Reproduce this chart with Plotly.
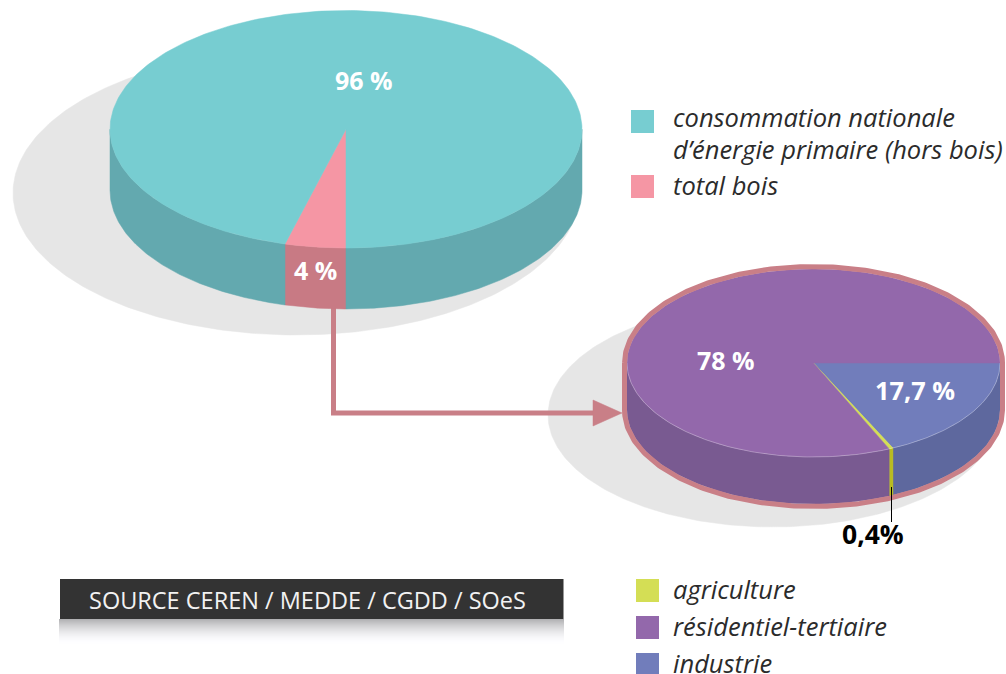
import numpy as np
import plotly.graph_objects as go

# ---- data ----
main_categories = ["total bois", "consommation nationale d’énergie primaire (hors bois)"]
main_shares_drawn = [4.16, 95.84]
main_labels = ["4 %", "96 %"]
wood_categories = ["industrie", "agriculture", "résidentiel-tertiaire"]
wood_shares_drawn = [18.0, 0.35, 81.65]
wood_labels = ["17,7 %", "0,4%", "78 %"]
source_text = "SOURCE CEREN / MEDDE / CGDD / SOeS"

# ---- styles ----
MAIN_TOP = ["#f596a4", "#77cdd1"]
MAIN_SIDE = ["#c87a84", "#63a9af"]
WOOD_TOP = ["#717dbb", "#d4de55", "#9368ab"]
WOOD_SIDE = ["#5e689e", "#b9bc1f", "#795a91"]
SHADOW = "#e6e6e6"
ROSE = "#c97f87"
FONT = "Open Sans"

fig = go.Figure()


def add_poly(x, y, fill, line=None, width=0):
    fig.add_trace(go.Scatter(
        x=x, y=y, mode="lines", fill="toself", fillcolor=fill,
        line=dict(color=line or fill, width=width if line else 0.5),
        hoverinfo="skip", showlegend=False))


def ell(cx, cy, rx, ry, deg):
    t = np.radians(deg)
    return cx + rx * np.sin(t), cy - ry * np.cos(t)


def draw_pie(shares, start, cx, cy, rx, ry, depth, tops, sides, rim=None):
    total = sum(shares)
    edges = start + np.cumsum([0] + list(shares)) * 360.0 / total
    # walls
    for i in range(len(shares)):
        a0, a1 = edges[i], edges[i + 1]
        for k in (0, 360, -360):
            lo, hi = max(a0, 90 + k), min(a1, 270 + k)
            if hi > lo:
                t = np.linspace(lo, hi, 120)
                xs, ys = ell(cx, cy, rx, ry, t)
                add_poly(np.r_[xs, xs[::-1], xs[0]],
                         np.r_[ys, ys[::-1] + depth, ys[0]], sides[i])
    # tops
    for i in range(len(shares)):
        t = np.linspace(edges[i], edges[i + 1], 300)
        xs, ys = ell(cx, cy, rx, ry, t)
        add_poly(np.r_[cx, xs, cx], np.r_[cy, ys, cy], tops[i])
    if rim:
        t = np.linspace(90, 270, 200)
        xs, ys = ell(cx, cy, rx, ry, t)
        fig.add_trace(go.Scatter(x=xs, y=ys, mode="lines",
                                 line=dict(color="rgba(255,255,255,0.35)", width=0.8),
                                 hoverinfo="skip", showlegend=False))
        t = np.linspace(-90, 90, 200)
        xs, ys = ell(cx, cy, rx + 2.5, ry + 2.5, t)
        t2 = np.linspace(90, 270, 200)
        xb, yb = ell(cx, cy, rx + 2.5, ry + 2.5, t2)
        fig.add_trace(go.Scatter(
            x=np.r_[xs, xb, xs[0]], y=np.r_[ys, yb + depth, ys[0]], mode="lines",
            line=dict(color=rim, width=5), hoverinfo="skip", showlegend=False))


# shadows
t = np.linspace(0, 360, 361)
xs, ys = ell(296, 193, 283, 142, t)
add_poly(xs, ys, SHADOW)
xs, ys = ell(773, 415, 225, 112, t)
add_poly(xs, ys, SHADOW)

# connector and arrow
fig.add_trace(go.Scatter(x=[333.5, 333.5, 596], y=[305, 413, 413], mode="lines",
                         line=dict(color=ROSE, width=5), hoverinfo="skip", showlegend=False))
add_poly([593, 622, 593, 593], [400, 413, 426, 400], ROSE)

# pies
draw_pie(main_shares_drawn, 180, 346, 129.25, 236, 118.75, 61, MAIN_TOP, MAIN_SIDE)
draw_pie(wood_shares_drawn, 90, 813.5, 363, 186.5, 94, 47, WOOD_TOP, WOOD_SIDE, rim=ROSE)

# leader
fig.add_trace(go.Scatter(x=[891.5, 891.5], y=[487, 522], mode="lines",
                         line=dict(color="#000000", width=1), hoverinfo="skip", showlegend=False))

# legend squares
leg_x = [642.5, 642.5, 647.5, 647.5, 647.5]
leg_y = [121.5, 186.5, 590.5, 627.5, 664.5]
leg_c = ["#77cdd1", "#f596a4", "#d4de55", "#9368ab", "#717dbb"]
fig.add_trace(go.Scatter(x=leg_x, y=leg_y, mode="markers",
                         marker=dict(symbol="square", size=23, color=leg_c, line=dict(width=0)),
                         hoverinfo="skip", showlegend=False))


def label(x, y, text, size, color, bold=False, italic=False, anchor="center"):
    fig.add_annotation(
        x=x, y=y, text=f"<b>{text}</b>" if bold else text, showarrow=False,
        xanchor=anchor, yanchor="middle",
        font=dict(family=FONT, size=size, color=color,
                  style="italic" if italic else "normal"))


label(363.5, 80, main_labels[1], 25, "#ffffff", bold=True)
label(315, 270, main_labels[0], 25, "#ffffff", bold=True)
label(726, 360, wood_labels[2], 25, "#ffffff", bold=True)
label(915, 390, wood_labels[0], 25.3, "#ffffff", bold=True)
label(873, 534, wood_labels[1], 26.5, "#000000", bold=True)

INK = "#2b2b2b"
SZ = 25.5
label(671, 117, "consommation nationale", SZ, INK, italic=True, anchor="left")
label(671, 149, "d’énergie primaire (hors bois)", SZ, INK, italic=True, anchor="left")
label(671, 185, main_categories[0], SZ, INK, italic=True, anchor="left")
label(671, 589, wood_categories[1], SZ, INK, italic=True, anchor="left")
label(671, 626, wood_categories[2], SZ, INK, italic=True, anchor="left")
label(671, 663, wood_categories[0], SZ, INK, italic=True, anchor="left")

# source banner
shapes = [dict(type="rect", x0=60, x1=563.5, y0=579, y1=619,
               fillcolor="#333333", line=dict(width=0), layer="above")]
for i in range(26):
    g = int(178 + (255 - 178) * (1 - (1 - i / 25) ** 1.8))
    shapes.append(dict(type="rect", x0=59, x1=564, y0=619 + i, y1=620 + i,
                       fillcolor=f"rgb({g},{g},{min(g + 2, 255)})", line=dict(width=0), layer="below"))
label(87, 600, source_text, 23.5, "#f2f2f2", anchor="left")

fig.update_layout(
    width=1006, height=674, margin=dict(l=0, r=0, t=0, b=0),
    paper_bgcolor="#ffffff", plot_bgcolor="#ffffff", showlegend=False, shapes=shapes,
    xaxis=dict(range=[0, 1006], visible=False, fixedrange=True),
    yaxis=dict(range=[674, 0], visible=False, fixedrange=True),
)
fig.write_html("out.html", config=dict(displayModeBar=False),
               post_script="document.body.style.margin='0';document.body.style.overflow='hidden';")
